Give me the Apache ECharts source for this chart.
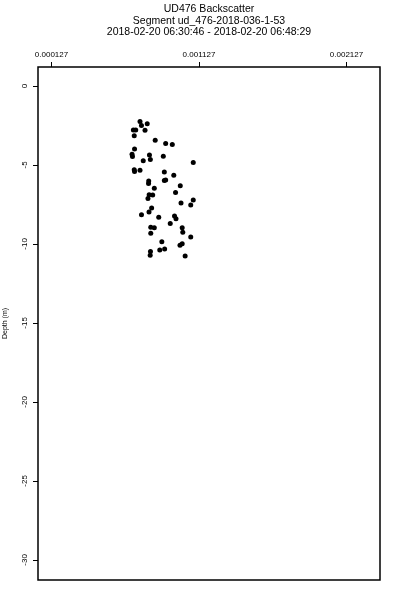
<!DOCTYPE html>
<html>
<head>
<meta charset="utf-8">
<script src="https://cdn.jsdelivr.net/npm/echarts@6/dist/echarts.min.js"></script>
<style>html,body{margin:0;padding:0;background:#fff}#c{width:400px;height:600px}</style>
</head>
<body>
<div id="c"></div>
<script>
const titleLines = ["UD476 Backscatter", "Segment ud_476-2018-036-1-53", "2018-02-20 06:30:46 - 2018-02-20 06:48:29"];
const yAxisName = "Depth (m)";
const xTicks = [0.000127, 0.001127, 0.002127];
const yTicks = [0, -5, -10, -15, -20, -25, -30];
const backscatter = [0.000727,0.000737,0.000776,0.000682,0.000698,0.000761,0.000688,0.000830,0.000901,0.000946,
0.000690,0.000673,0.000676,0.000791,0.000797,0.000749,0.000885,0.001088,0.000688,0.000690,
0.000727,0.000892,0.000956,0.000786,0.000785,0.000892,0.000901,0.000824,0.001000,0.000968,
0.000789,0.000813,0.000781,0.001088,0.001005,0.001071,0.000806,0.000788,0.000737,0.000854,
0.000961,0.000971,0.000932,0.000800,0.000824,0.001013,0.001017,0.000800,0.001071,0.000875,
0.000998,0.001013,0.000861,0.000894,0.000798,0.000796,0.001033];
const depth = [-2.25,-2.51,-2.39,-2.78,-2.78,-2.80,-3.15,-3.43,-3.64,-3.70,
-3.99,-4.32,-4.47,-4.37,-4.65,-4.73,-4.45,-4.85,-5.30,-5.41,
-5.33,-5.44,-5.65,-6.01,-6.17,-5.98,-5.95,-6.47,-6.32,-6.74,
-6.88,-6.90,-7.12,-7.22,-7.41,-7.54,-7.72,-7.97,-8.15,-8.31,
-8.23,-8.41,-8.70,-8.94,-8.97,-8.97,-9.26,-9.32,-9.56,-9.86,
-10.08,-9.99,-10.39,-10.32,-10.47,-10.72,-10.76];

const font = "'Liberation Sans', Arial, sans-serif";
const pts = backscatter.map((v, i) => [v, depth[i]]);
const chart = echarts.init(document.getElementById('c'), null, {renderer: 'canvas'});
chart.setOption({
  animation: false,
  backgroundColor: '#fff',
  title: {
    text: titleLines.join('\n'),
    left: 209, top: 3, textAlign: 'center', padding: 0,
    textStyle: {fontFamily: font, fontSize: 10.5, fontWeight: 'normal', color: '#000', lineHeight: 11.8}
  },
  grid: {left: 38, right: 20, top: 67, bottom: 20, containLabel: false, outerBoundsMode: 'none',
    show: true, borderColor: '#000', borderWidth: 1.5, backgroundColor: 'transparent'},
  xAxis: {
    type: 'value', position: 'top', min: 0.0000355, max: 0.002354,
    axisLine: {show: false, onZero: false}, splitLine: {show: false},
    axisTick: {show: true, inside: false, length: 5, customValues: xTicks, lineStyle: {color: '#000', width: 1}},
    axisLabel: {show: true, customValues: xTicks, margin: 8, fontFamily: font, fontSize: 8, color: '#000',
      formatter: v => v.toFixed(6)}
  },
  yAxis: {
    type: 'value', min: -31.27, max: 1.2,
    name: yAxisName, nameLocation: 'middle', nameGap: 29, nameRotate: 90,
    nameTextStyle: {fontFamily: font, fontSize: 7, color: '#000'},
    axisLine: {show: false, onZero: false}, splitLine: {show: false},
    axisTick: {show: true, inside: false, length: 5, customValues: yTicks, lineStyle: {color: '#000', width: 1}},
    axisLabel: {show: true, customValues: yTicks, rotate: 90, margin: 9, fontFamily: font, fontSize: 8, color: '#000'}
  },
  series: [{
    type: 'scatter', data: pts, symbol: 'circle', symbolSize: 5,
    itemStyle: {color: '#000', opacity: 1}
  }]
});
</script>
</body>
</html>
